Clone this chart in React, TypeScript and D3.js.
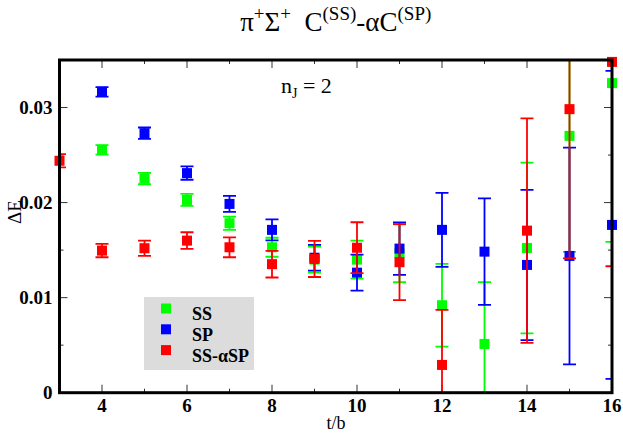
import React from "react";
import * as d3 from "d3";

const tValues = [3, 4, 5, 6, 7, 8, 9, 10, 11, 12, 13, 14, 15, 16];

// SS (green): value, error; null = no point
const ssValues = [null, 0.02555, 0.02253, 0.02028, 0.01783, 0.0153, 0.014, 0.014, 0.01467, 0.0092, 0.00513, 0.01523, 0.02702, 0.03257];
const ssErrors = [null, 0.0005, 0.0006, 0.00063, 0.0007, 0.001, 0.00137, 0.002, 0.00305, 0.00435, 0.0065, 0.00898, 0.0122, 0.0167];

// SP (blue)
const spValues = [null, 0.03165, 0.0273, 0.0231, 0.01986, 0.01713, 0.0142, 0.01263, 0.01516, 0.01713, 0.01484, 0.01344, 0.01439, 0.01765];
const spErrors = [null, 0.0005, 0.0006, 0.0007, 0.00084, 0.0011, 0.00135, 0.0019, 0.00276, 0.0039, 0.0056, 0.0079, 0.0114, 0.0162];

// SS-alpha SP (red)
const ssaspValues = [0.0244, 0.01495, 0.0152, 0.016, 0.0153, 0.01352, 0.01407, 0.01525, 0.01373, 0.00292, null, 0.01705, 0.02983, 0.0348];
const ssaspErrors = [0.0007, 0.0007, 0.0008, 0.00088, 0.00105, 0.0014, 0.0019, 0.00268, 0.004, 0.0058, null, 0.0118, 0.0157, 0.0215];

const xMajorTicks = [4, 6, 8, 10, 12, 14, 16];
const xMinorTicks = [3, 5, 7, 9, 11, 13, 15];
const yMajorTicks = [0, 0.01, 0.02, 0.03];
const yMinorTicks = [0.005, 0.015, 0.025, 0.035];
const yTickLabels = ["0", "0.01", "0.02", "0.03"];

const seriesNames = ["SS", "SP", "SS-\u03B1SP"];
const seriesColors = ["#00ff00", "#0000ff", "#ff0000"];

const W = 623;
const H = 433;
const L = 59.5;
const R = 612;
const T = 60;
const B = 392.7;

const serif = "Liberation Serif, Times New Roman, serif";

export default function App() {
  const x = d3.scaleLinear().domain([3, 16]).range([L, R]);
  const y = d3.scaleLinear().domain([0, 0.035]).range([B, T]);

  const series = [
    { v: ssValues, e: ssErrors },
    { v: spValues, e: spErrors },
    { v: ssaspValues, e: ssaspErrors },
  ];

  const cap = 6.5;
  const ms = 10;

  return (
    <svg width={W} height={H} style={{ position: "absolute", left: 0, top: 0 }}>
      <defs>
        <clipPath id="plotclip">
          <rect x={L} y={T} width={R - L} height={B - T} />
        </clipPath>
      </defs>
      <rect x={0} y={0} width={W} height={H} fill="#fff" />

      {/* title */}
      <text x={(L + R) / 2} y={31} textAnchor="middle" fontSize={27} fontFamily={serif}>
        <tspan>{"\u03C0"}</tspan>
        <tspan fontSize={19} dy={-11}>+</tspan>
        <tspan dy={11}>{"\u03A3"}</tspan>
        <tspan fontSize={19} dy={-11}>+</tspan>
        <tspan dy={11}>{"\u00A0\u00A0C"}</tspan>
        <tspan fontSize={19} dy={-11}>(SS)</tspan>
        <tspan dy={11}>{"-\u03B1C"}</tspan>
        <tspan fontSize={19} dy={-11}>(SP)</tspan>
      </text>

      {/* ticks */}
      <g stroke="#333" strokeWidth={1}>
        {xMajorTicks.map((t) => (
          <g key={"xm" + t}>
            <line x1={x(t)} x2={x(t)} y1={B} y2={B - 8} />
            <line x1={x(t)} x2={x(t)} y1={T} y2={T + 8} />
          </g>
        ))}
        {xMinorTicks.map((t) => (
          <g key={"xn" + t}>
            <line x1={x(t)} x2={x(t)} y1={B} y2={B - 4} />
            <line x1={x(t)} x2={x(t)} y1={T} y2={T + 4} />
          </g>
        ))}
        {yMajorTicks.map((t) => (
          <g key={"ym" + t}>
            <line x1={L} x2={L + 8} y1={y(t)} y2={y(t)} />
            <line x1={R} x2={R - 8} y1={y(t)} y2={y(t)} />
          </g>
        ))}
        {yMinorTicks.map((t) => (
          <g key={"yn" + t}>
            <line x1={L} x2={L + 4} y1={y(t)} y2={y(t)} />
            <line x1={R} x2={R - 4} y1={y(t)} y2={y(t)} />
          </g>
        ))}
      </g>

      {/* n_J label */}
      <text x={281} y={93} fontSize={22} fontFamily={serif}>
        <tspan>n</tspan>
        <tspan fontSize={14} dy={5}>J</tspan>
        <tspan dy={-5}>{" = 2"}</tspan>
      </text>

      {/* legend */}
      <rect x={144} y={297} width={110} height={73} fill="#dcdcdc" />
      {seriesNames.map((name, i) => (
        <g key={name}>
          <rect x={161} y={308.5 + i * 20.8 - 5} width={10} height={10} fill={seriesColors[i]} />
          <text x={192} y={314 + i * 20.8 + 6} fontSize={18} fontWeight="bold" fontFamily={serif}>{name}</text>
        </g>
      ))}

      {/* data */}
      {series.map((s, si) => (
        <g key={si}>
          <g clipPath="url(#plotclip)" stroke={seriesColors[si]} strokeWidth={1.8}>
            {tValues.map((t, i) => {
              const v = s.v[i];
              const e = s.e[i];
              if (v === null || e === null) return null;
              const cx = x(t);
              const yt = y(v + e);
              const yb = y(v - e);
              return (
                <g key={i}>
                  <line x1={cx} x2={cx} y1={yt} y2={yb} />
                  <line x1={cx - cap} x2={cx + cap} y1={yt} y2={yt} />
                  <line x1={cx - cap} x2={cx + cap} y1={yb} y2={yb} />
                </g>
              );
            })}
          </g>
          {tValues.map((t, i) => {
            const v = s.v[i];
            if (v === null) return null;
            return (
              <rect key={"m" + i} x={x(t) - ms / 2} y={y(v) - ms / 2} width={ms} height={ms} fill={seriesColors[si]} />
            );
          })}
        </g>
      ))}

      {/* frame */}
      <rect x={L} y={T} width={R - L} height={B - T} fill="none" stroke="#000" strokeWidth={3} />

      {/* tick labels */}
      {yMajorTicks.map((t, i) => (
        <text key={"yl" + t} x={L - 7} y={y(t) + 6} textAnchor="end" fontSize={19} fontWeight="bold" fontFamily={serif}>
          {yTickLabels[i]}
        </text>
      ))}
      {xMajorTicks.map((t) => (
        <text key={"xl" + t} x={x(t)} y={412} textAnchor="middle" fontSize={19} fontWeight="bold" fontFamily={serif}>
          {t}
        </text>
      ))}

      {/* axis labels */}
      <text x={336} y={429} textAnchor="middle" fontSize={18} fontFamily={serif}>t/b</text>
      <text transform={`translate(21, 212) rotate(-90)`} textAnchor="middle" fontSize={19} fontFamily={serif}>{"\u0394E"}</text>
    </svg>
  );
}
